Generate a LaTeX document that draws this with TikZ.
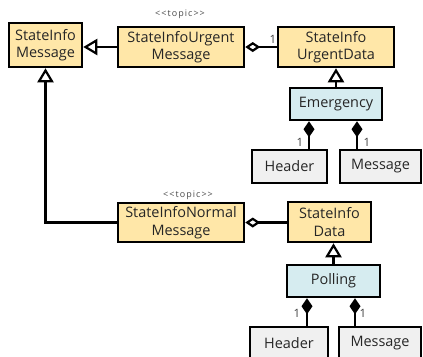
\documentclass[tikz,border=0pt]{standalone}
\usepackage{fontspec}
\setmainfont{Open Sans}
\newfontfamily\stereofont[Ligatures=NoCommon,LetterSpace=12]{Open Sans}
\usetikzlibrary{arrows.meta}
\definecolor{yel}{RGB}{255,231,168}
\definecolor{cyanb}{RGB}{214,236,240}
\definecolor{grayb}{RGB}{240,240,240}
\begin{document}
\begin{tikzpicture}[x=1bp,y=-1bp,
  box/.style={draw=black, line width=2.5bp, align=center, inner sep=0pt,
    font=\fontsize{14.5}{17.5}\selectfont, text=black!85},
  ybox/.style={box, fill=yel},
  cbox/.style={box, fill=cyanb},
  gbox/.style={box, fill=grayb},
  conn/.style={line width=2.2bp, draw=black},
  gen/.style={conn, -{Triangle[open,length=14bp,width=16bp]}},
  agg/.style={conn, {Diamond[open,length=15bp,width=10bp]}-},
  comp/.style={conn, {Diamond[length=16bp,width=11bp]}-},
  mult/.style={font=\fontsize{11.5}{13}\selectfont, text=black!75, inner sep=0pt},
  stereo/.style={font=\stereofont\fontsize{9}{10}\selectfont, text=black!70, inner sep=0pt}
]
\fill[white] (0,0) rectangle (423,357);
\clip (0,0) rectangle (423,357);

\node[ybox, minimum width=73bp, minimum height=44bp] (sim) at (45.5,45) {StateInfo\\Message};
\node[ybox, minimum width=126bp, minimum height=40bp] (um) at (181,47) {StateInfoUrgent\\Message};
\node[ybox, minimum width=116bp, minimum height=40bp] (ud) at (336,47) {StateInfo\\UrgentData};
\node[cbox, minimum width=92bp, minimum height=32bp] (em) at (336,104) {Emergency};
\node[gbox, minimum width=75bp, minimum height=33bp] (h1) at (289.5,166.5) {Header};
\node[gbox, minimum width=81bp, minimum height=33bp] (m1) at (380.5,166.5) {Message};

\node[ybox, minimum width=126bp, minimum height=39bp] (nm) at (181,222.5) {StateInfoNormal\\Message};
\node[ybox, minimum width=83bp, minimum height=40bp] (nd) at (329.5,222) {StateInfo\\Data};
\node[cbox, minimum width=93bp, minimum height=32bp] (po) at (333.5,281) {Polling};
\node[gbox, minimum width=78bp, minimum height=33bp] (h2) at (289,343.5) {Header};
\node[gbox, minimum width=82bp, minimum height=33bp] (m2) at (380,343.5) {Message};

\node[stereo] (st1) at (180,14) {<{}<topic>{}>};
\node[stereo] (st2) at (188,195) {<{}<topic>{}>};

% generalizations
\draw[gen] (um.west) -- (um.west -| sim.east);
\draw[gen] (nm.west) -| (sim.south);
\draw[gen] (em.north) -- (ud.south);
\draw[gen] (po.north) -- (po.north |- nd.south);

% aggregations
\draw[agg] (um.east) -- (um.east -| ud.west);
\node[mult] (n1) at (273,39) {1};
\draw[agg] (nm.east) -- (nm.east -| nd.west);

% compositions
\draw[comp] ([xshift=-27bp]em.south) -- ([xshift=-27bp]em.south |- h1.north);
\draw[comp] ([xshift=21bp]em.south) -- ([xshift=21bp]em.south |- m1.north);
\node[mult] (c1) at (300,142) {1};
\node[mult] (c2) at (367,142) {1};

\draw[comp] ([xshift=-26.5bp]po.south) -- ([xshift=-26.5bp]po.south |- h2.north);
\draw[comp] ([xshift=21.5bp]po.south) -- ([xshift=21.5bp]po.south |- m2.north);
\node[mult] (c3) at (297,313) {1};
\node[mult] (c4) at (363,313) {1};
\end{tikzpicture}
\end{document}
